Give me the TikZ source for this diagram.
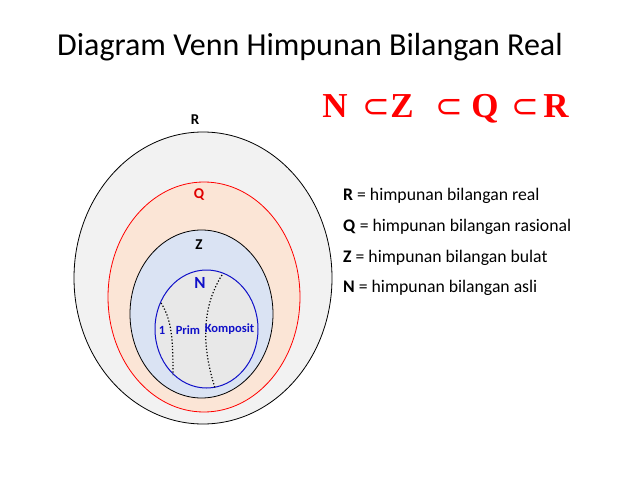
\documentclass[tikz,border=0pt]{standalone}
\usepackage{fontspec}
\setmainfont{Carlito}
\newfontfamily\serifb{Liberation Serif}
\newfontfamily\symfont{DejaVu Sans}
\definecolor{rfill}{HTML}{F2F2F2}
\definecolor{qfill}{HTML}{FBE5D6}
\definecolor{zfill}{HTML}{DAE3F3}
\definecolor{nfill}{HTML}{E8E8E8}
\definecolor{nblue}{HTML}{1010C8}
\definecolor{qred}{HTML}{E00000}
\begin{document}
\begin{tikzpicture}[x=1pt,y=-1pt,
  setlbl/.style={font=\bfseries\fontsize{15}{17}\selectfont, inner sep=0pt},
  legend/.style={font=\fontsize{17.7}{20}\selectfont, anchor=west, inner sep=0pt},
  nlbl/.style={font=\bfseries\fontsize{12.5}{14}\selectfont, text=nblue, inner sep=0pt},
  sub/.style={font=\serifb\bfseries\fontsize{35}{38}\selectfont, text=red, inner sep=0pt, anchor=base},
  subsign/.style={font=\symfont\fontsize{33}{35}\selectfont, text=red, inner sep=0pt, anchor=base}]
\useasboundingbox (0,0) rectangle (638,479);
\node[font=\fontsize{32}{36}\selectfont, inner sep=0pt] (title) at (310,47) {Diagram Venn Himpunan Bilangan Real};
% ellipses
\draw[black, fill=rfill, line width=0.8pt] (203,278) ellipse [x radius=129, y radius=146];
\draw[red, fill=qfill, line width=0.8pt] (204,297) ellipse [x radius=96, y radius=115];
\draw[black, fill=zfill, line width=0.8pt] (201.5,314) ellipse [x radius=71.5, y radius=84];
\draw[nblue, fill=nfill, line width=1pt] (206.5,329) ellipse [x radius=51.5, y radius=59];
% dotted dividers
\draw[dotted, line width=1.2pt] (161,303) .. controls (172,320) and (173,340) .. (173,375);
\draw[dotted, line width=1.2pt] (222,275) .. controls (200,310) and (203,350) .. (215,388);
% labels
\node[setlbl] (lR) at (195,120) {R};
\node[setlbl, text=qred] (lQ) at (199,195) {Q};
\node[setlbl] (lZ) at (199,245) {Z};
\node[setlbl, text=nblue, font=\bfseries\fontsize{17}{19}\selectfont] (lN) at (200,283) {N};
\node[nlbl] (one) at (162,330) {1};
\node[nlbl] (prim) at (188,330) {Prim};
\node[nlbl] (komp) at (229.5,329) {Komposit};
% legend
\node[legend] (legR) at (343,196) {\textbf{R} = himpunan bilangan real};
\node[legend] (legQ) at (343,227) {\textbf{Q} = himpunan bilangan rasional};
\node[legend] (legZ) at (343,258) {\textbf{Z} = himpunan bilangan bulat};
\node[legend] (legN) at (343,288) {\textbf{N} = himpunan bilangan asli};
% subset chain
\node[sub] (cN) at (335,117) {N};
\node[subsign] (s1) at (376,117) {⊂};
\node[sub] (cZ) at (402,117) {Z};
\node[subsign] (s2) at (449,117) {⊂};
\node[sub] (cQ) at (485,117) {Q};
\node[subsign] (s3) at (525,117) {⊂};
\node[sub] (cR) at (556,117) {R};
\end{tikzpicture}
\end{document}
